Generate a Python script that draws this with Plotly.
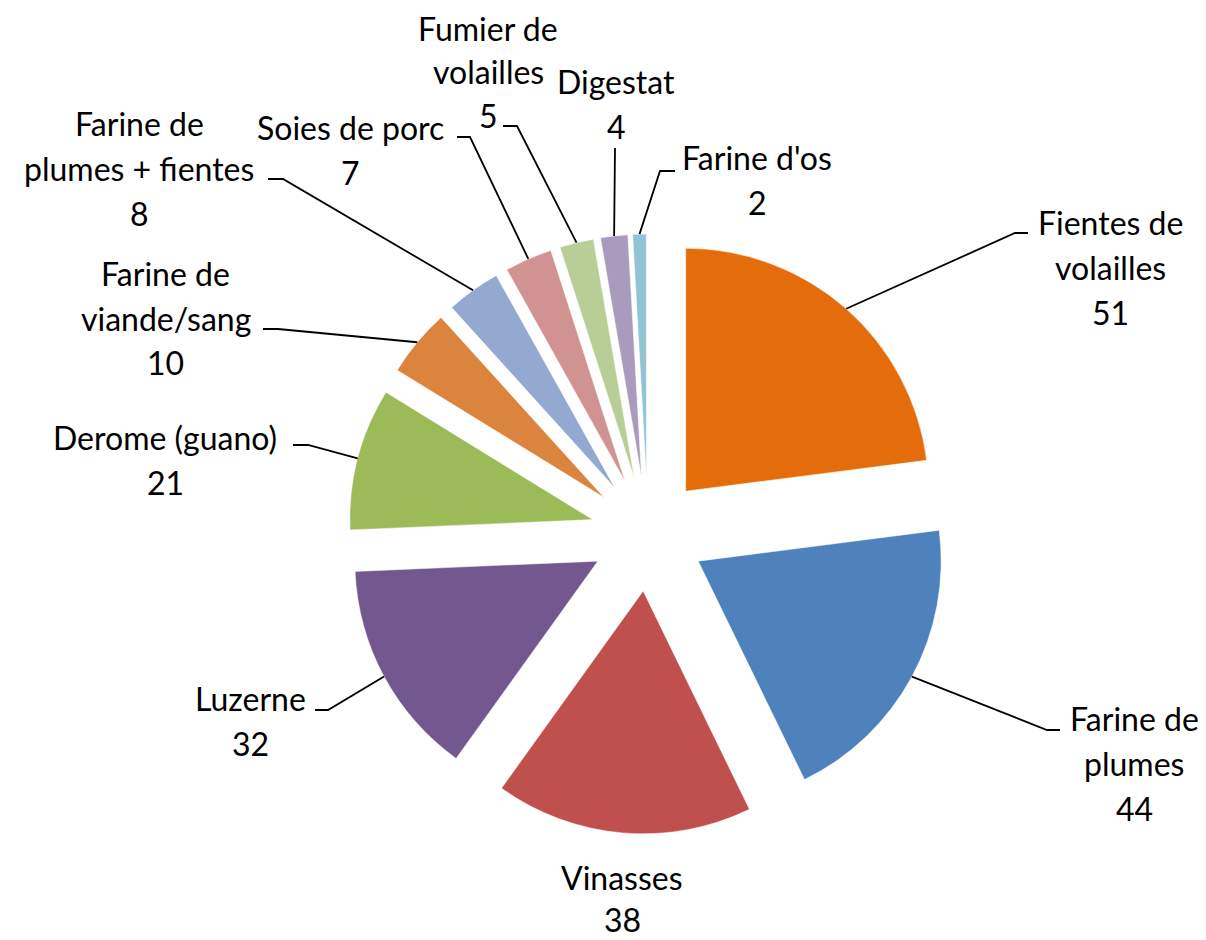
import math
import plotly.graph_objects as go

# ---------------- data ----------------
categories = ["Fientes de volailles", "Farine de plumes", "Vinasses", "Luzerne",
              "Derome (guano)", "Farine de viande/sang", "Farine de plumes + fientes",
              "Soies de porc", "Fumier de volailles", "Digestat", "Farine d'os"]
values = [51, 44, 38, 32, 21, 10, 8, 7, 5, 4, 2]
label_lines = [["Fientes de", "volailles"], ["Farine de", "plumes"], ["Vinasses"],
               ["Luzerne"], ["Derome (guano)"], ["Farine de", "viande/sang"],
               ["Farine de", "plumes + fientes"], ["Soies de porc"],
               ["Fumier de", "volailles"], ["Digestat"], ["Farine d'os"]]
colors = ["#E46C0A", "#4F81BD", "#C0504D", "#72588E", "#9BBB59", "#DB843D",
          "#93A9CF", "#D19392", "#B9CD96", "#A99BBD", "#92C3D4"]

# ---------------- layout (pixels, screen coordinates) ----------------
W, H = 1206, 940
OFF = 8                    # page body margin
CX, CY = 648, 534          # pie centre
PULL = 0.235
HALF = 300                 # r * (1 + pull)
FONT = dict(family="Lato, 'Open Sans', sans-serif", size=32, color="black")
# label block: centre x, centre y of first line, line pitch, knee point, end point
label_pos = [
    (1110, 222, 45, (1015, 233), (1028, 233)),
    (1134, 718, 45, (1047, 730), (1060, 730)),
    (622, 877, 42, None, None),
    (250, 698, 45, (328, 710), (315, 710)),
    (165, 437, 45, (308, 445), (293, 445)),
    (166, 273, 45, (278, 329), (263, 329)),
    (139, 123, 45, (283, 179), (268, 179)),
    (350, 128, 45, (470, 137), (457, 137)),
    (488, 29, 43, (517, 126), (503, 126)),
    (616, 81, 46, (615, 148), (615, 148)),
    (757, 157, 45, (660, 171), (675, 171)),
]


def px(x):
    return (x - OFF) / W


def py(y):
    return 1 - (y - OFF) / H


fig = go.Figure(go.Pie(
    labels=categories, values=values, sort=False, direction="clockwise",
    rotation=0, pull=PULL, textinfo="none", showlegend=False,
    marker=dict(colors=colors, line=dict(color="white", width=0.5)),
    domain=dict(x=[px(CX - HALF), px(CX + HALF)], y=[py(CY + HALF), py(CY - HALF)]),
))

total = sum(values)
annotations = []
shapes = []
cum = 0
for i, v in enumerate(values):
    mid = (cum + v / 2) / total * 2 * math.pi
    cum += v
    ax = CX + HALF * math.sin(mid)
    ay = CY - HALF * math.cos(mid)
    lx, ly, pitch, knee, end = label_pos[i]
    lines = label_lines[i] + [str(v)]
    for k, t in enumerate(lines):
        annotations.append(dict(
            x=px(lx), y=py(ly + k * pitch), xref="paper", yref="paper",
            text=t, showarrow=False, xanchor="center", yanchor="middle",
            borderpad=0, font=FONT))
    if knee is not None:
        path = "M {} {} L {} {} L {} {}".format(px(end[0]), py(end[1]), px(knee[0]),
                                               py(knee[1]), px(ax), py(ay))
        shapes.append(dict(type="path", path=path, xref="paper", yref="paper",
                           line=dict(color="black", width=1.8)))

fig.update_layout(
    width=W, height=H, margin=dict(l=0, r=0, t=0, b=0),
    paper_bgcolor="white", plot_bgcolor="white",
    annotations=annotations, shapes=shapes,
)
fig.write_html("out.html")
